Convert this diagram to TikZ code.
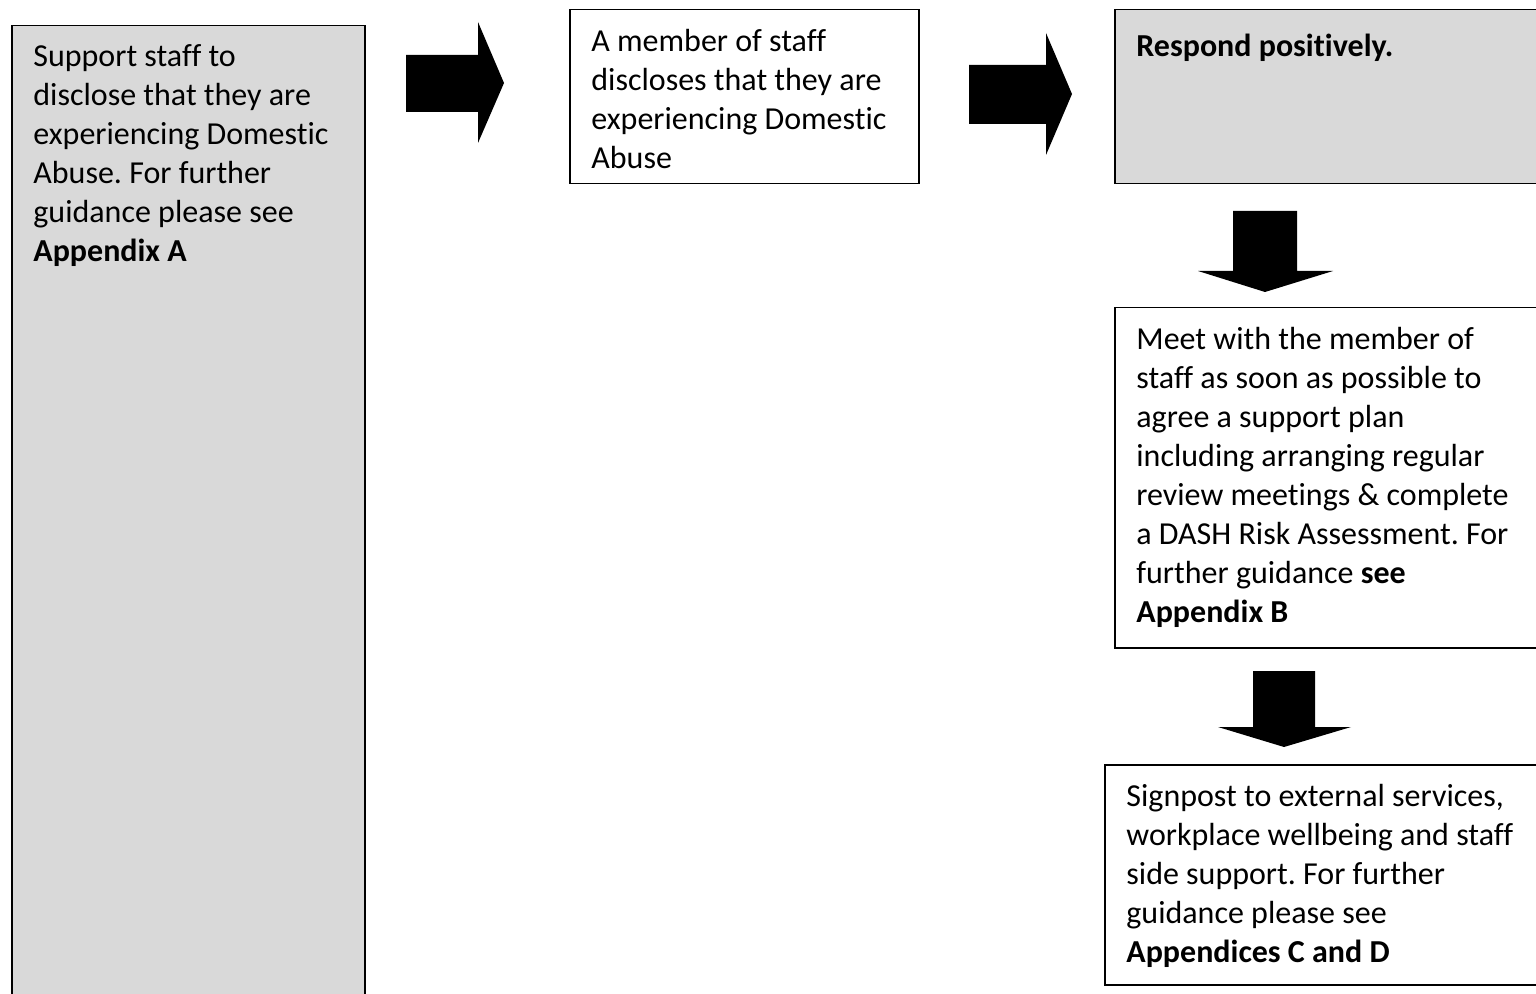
\documentclass[tikz,border=0pt]{standalone}
\usepackage{fontspec}
\setmainfont{Carlito}[Ligatures=NoCommon]
\usetikzlibrary{positioning}
\definecolor{boxgrey}{HTML}{D9D9D9}
\frenchspacing
\tikzset{
  box/.style={draw, line width=0.75pt, anchor=north west, inner sep=0pt},
  greybox/.style={box, fill=boxgrey},
  txt/.style={inner sep=0pt, align=left, font=\fontsize{16}{19.5}\selectfont, execute at begin node=\strut},
  blockarrow/.style={fill=black}
}
\begin{document}
\begin{tikzpicture}[x=0.5pt,y=-0.5pt]
\useasboundingbox (0,0) rectangle (1536,994);
\clip (0,0) rectangle (1536,994);
% boxes
\node[greybox, minimum width=176.5pt, minimum height=487.5pt] (support) at (11,25){};
\node[box, fill=white, minimum width=174.5pt, minimum height=87pt] (disclose) at (569,9){};
\node[greybox, minimum width=220pt, minimum height=87pt] (respond) at (1114,9){};
\node[box, fill=white, minimum width=220pt, minimum height=170pt] (meet) at (1114,307){};
\node[box, fill=white, minimum width=225pt, minimum height=110pt] (signpost) at (1104,764){};
% texts
\node[txt, below right=9.8pt and 11pt of support.north west] (supporttxt) {Support staff to\\disclose that they are\\experiencing Domestic\\Abuse. For further\\guidance please see\\\textbf{Appendix A}};
\node[txt, below right=9.8pt and 11pt of disclose.north west] (disclosetxt) {A member of staff\\discloses that they are\\experiencing Domestic\\Abuse};
\node[txt, below right=9.8pt and 11pt of respond.north west] (respondtxt) {\textbf{Respond positively.}};
\node[txt, below right=9.8pt and 11pt of meet.north west] (meettxt) {Meet with the member of\\staff as soon as possible to\\agree a support plan\\including arranging regular\\review meetings \& complete\\a DASH Risk Assessment. For\\further guidance \textbf{see}\\\textbf{Appendix B}};
\node[txt, below right=9.8pt and 11pt of signpost.north west] (signposttxt) {Signpost to external services,\\workplace wellbeing and staff\\side support. For further\\guidance please see\\\textbf{Appendices C and D}};
% block arrows
\fill[blockarrow] (406,55) -- (478,55) -- (478,22) -- (504,83) -- (478,143) -- (478,112) -- (406,112) -- cycle;
\fill[blockarrow] (969,65) -- (1046,65) -- (1046,33) -- (1072,94) -- (1046,155) -- (1046,124) -- (969,124) -- cycle;
\fill[blockarrow] (1233,211) -- (1297,211) -- (1297,271) -- (1333,271) -- (1265,292) -- (1198,271) -- (1233,271) -- cycle;
\fill[blockarrow] (1253,671) -- (1315,671) -- (1315,727) -- (1351,727) -- (1284,747) -- (1218,727) -- (1253,727) -- cycle;
\end{tikzpicture}
\end{document}
